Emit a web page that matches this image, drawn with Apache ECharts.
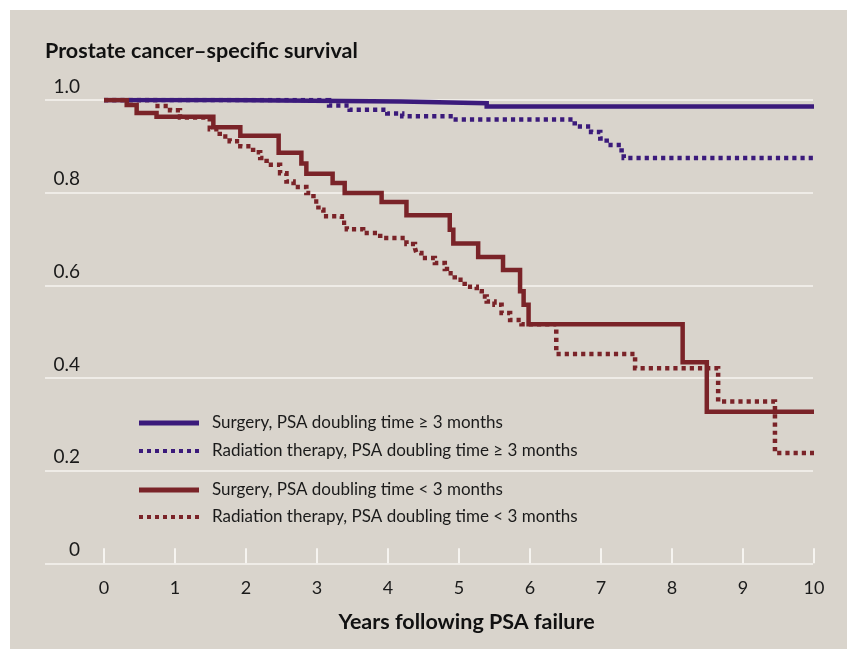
<!DOCTYPE html>
<html>
<head>
<meta charset="utf-8">
<script src="https://cdn.jsdelivr.net/npm/echarts@6/dist/echarts.min.js"></script>
<style>
  html, body { margin: 0; padding: 0; background: #ffffff; }
  #wrap { position: absolute; left: 0; top: 0; width: 847px; height: 649px; background: #ffffff; }
  #chart { position: absolute; left: 10px; top: 10px; width: 837px; height: 639px; background: #d9d4cc; }
</style>
</head>
<body>
<div id="wrap"><div id="chart"></div></div>
<script>
// ---- data ----
const xTickLabels = ['0','1','2','3','4','5','6','7','8','9','10'];
const yTickLabels = ['0','0.2','0.4','0.6','0.8','1.0'];
const seriesNames = [
  'Surgery, PSA doubling time \u2265 3 months',
  'Radiation therapy, PSA doubling time \u2265 3 months',
  'Surgery, PSA doubling time < 3 months',
  'Radiation therapy, PSA doubling time < 3 months'
];
// [years, survival] at each step
const surgeryLong = [[0,1.0],[1.68,0.997],[4.19,0.993],[5.39,0.986],[10,0.986]];
const radiationLong = [[0,1.0],[3.17,0.988],[3.46,0.979],[3.99,0.971],[4.2,0.965],[4.92,0.958],
  [6.63,0.943],[6.86,0.931],[6.99,0.917],[7.08,0.903],[7.29,0.886],[7.32,0.875],[10,0.875]];
const surgeryShort = [[0,1.0],[0.32,0.989],[0.46,0.972],[0.74,0.964],[1.54,0.941],[1.92,0.923],
  [2.46,0.886],[2.78,0.863],[2.85,0.841],[3.22,0.821],[3.39,0.799],[3.91,0.780],[4.26,0.751],
  [4.87,0.720],[4.92,0.690],[5.27,0.661],[5.62,0.633],[5.86,0.587],[5.91,0.558],[5.98,0.516],
  [8.15,0.434],[8.49,0.327],[10,0.327]];
const radiationShort = [[0,1.0],[0.72,0.987],[0.93,0.978],[1.07,0.962],[1.49,0.937],[1.63,0.921],
  [1.77,0.911],[1.92,0.900],[2.1,0.887],[2.2,0.875],[2.29,0.860],[2.48,0.842],[2.57,0.824],
  [2.67,0.812],[2.85,0.799],[2.95,0.781],[3.02,0.763],[3.09,0.749],[3.35,0.735],[3.42,0.721],
  [3.65,0.713],[3.89,0.702],[4.26,0.689],[4.38,0.680],[4.40,0.670],[4.47,0.659],[4.66,0.648],
  [4.80,0.635],[4.83,0.626],[4.94,0.612],[5.08,0.597],[5.25,0.587],[5.32,0.576],[5.39,0.565],
  [5.5,0.558],[5.6,0.540],[5.72,0.525],[5.88,0.516],[6.37,0.452],[7.48,0.421],[8.65,0.349],
  [9.45,0.238],[10,0.238]];

const BLUE = '#3b1a7b';
const RED = '#7a2328';
const FONT = 'Lato, "Open Sans", sans-serif';
const DOT_ICON = 'path://M0,0h4v4h-4z M8,0h4v4h-4z M16,0h4v4h-4z M24,0h4v4h-4z M32,0h4v4h-4z M40,0h4v4h-4z M48,0h4v4h-4z M56,0h4v4h-4z';

const chart = echarts.init(document.getElementById('chart'), null, {renderer: 'canvas'});

function mk(name, data, color, dotted) {
  return {
    name: name, type: 'line', xAxisIndex: 1, yAxisIndex: 1,
    data: data, step: 'end', symbol: 'none', animation: false,
    lineStyle: { color: color, width: dotted ? 4.5 : 4.5, type: dotted ? [4.2, 4] : 'solid', cap: 'butt', join: 'miter' },
    itemStyle: { color: color },
    z: dotted ? 3 : 4
  };
}
function legendItem(name, top, color, dotted) {
  return {
    data: [name], left: 129, top: top, orient: 'vertical',
    icon: dotted ? DOT_ICON : 'rect',
    itemWidth: 60, itemHeight: dotted ? 4.5 : 5, padding: 0,
    itemStyle: { color: color, borderWidth: 0 },
    textStyle: { fontFamily: FONT, fontSize: 17, lineHeight: 20, color: '#1a1a1a', padding: [0,0,0,8] },
    selectedMode: false
  };
}

const option = {
  backgroundColor: 'transparent',
  animation: false,
  grid: [
    { left: 35, right: 34, top: 90, bottom: 85.7 },
    { left: 94, right: 33, top: 90, bottom: 85.7 }
  ],
  xAxis: [
    { gridIndex: 0, type: 'value', min: 0, max: 1, show: false },
    { gridIndex: 1, type: 'value', min: 0, max: 10, interval: 1,
      axisLine: { show: false },
      axisTick: { show: true, inside: true, length: 15, lineStyle: { color: '#f6f4f0', width: 2 } },
      splitLine: { show: false },
      axisLabel: { margin: 16, fontFamily: FONT, fontSize: 18, color: '#1a1a1a',
        formatter: function (v) { return xTickLabels[Math.round(v)]; } }
    }
  ],
  yAxis: [
    { gridIndex: 0, type: 'value', min: 0, max: 1, interval: 0.2,
      axisLine: { show: false }, axisTick: { show: false }, axisLabel: { show: false },
      splitLine: { show: true, lineStyle: { color: '#f6f4f0', width: 1.6 } } },
    { gridIndex: 1, type: 'value', min: 0, max: 1, interval: 0.2,
      axisLine: { show: false }, axisTick: { show: false }, splitLine: { show: false },
      axisLabel: { margin: 24, fontFamily: FONT, fontSize: 19, color: '#1a1a1a',
        verticalAlign: 'bottom', lineHeight: 19, padding: [0,0,4,0],
        formatter: function (v) { return yTickLabels[Math.round(v * 5)]; } } }
  ],
  legend: [
    legendItem(seriesNames[0], 403, BLUE, false),
    legendItem(seriesNames[1], 431, BLUE, true),
    legendItem(seriesNames[2], 470, RED, false),
    legendItem(seriesNames[3], 497, RED, true)
  ],
  graphic: [
    { type: 'text', left: 35, top: 30, style: { text: 'Prostate cancer\u2013specific survival',
      font: 'bold 21.5px ' + FONT, fill: '#111111' } },
    { type: 'text', x: 456.5, y: 612, style: { text: 'Years following PSA failure',
      font: 'bold 21.5px ' + FONT, fill: '#111111', textAlign: 'center', textVerticalAlign: 'middle' } }
  ],
  series: [
    mk(seriesNames[0], surgeryLong, BLUE, false),
    mk(seriesNames[1], radiationLong, BLUE, true),
    mk(seriesNames[2], surgeryShort, RED, false),
    mk(seriesNames[3], radiationShort, RED, true)
  ]
};
chart.setOption(option);
</script>
</body>
</html>
